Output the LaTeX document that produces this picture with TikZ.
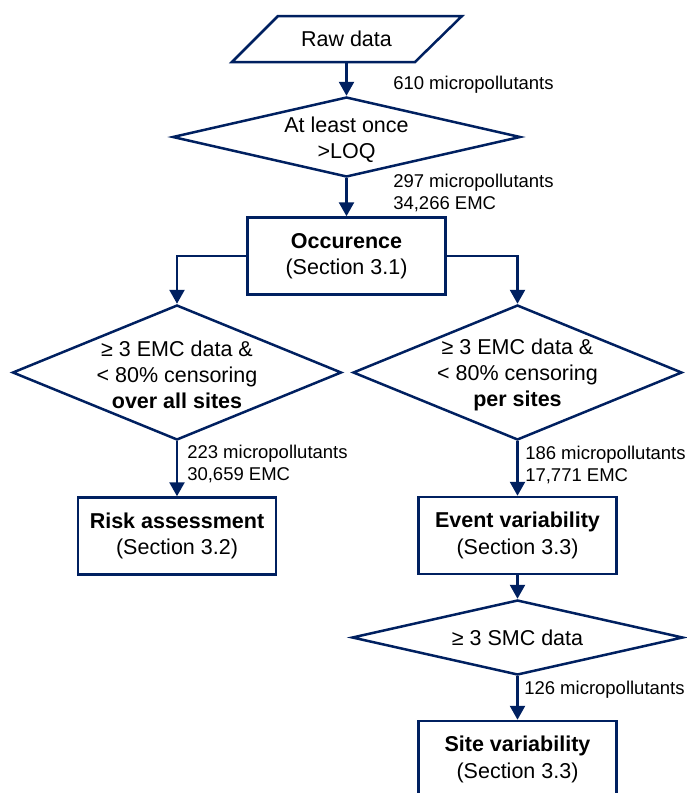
\documentclass[tikz,border=0pt]{standalone}
\usepackage{fontspec}
\setmainfont{Liberation Sans}
\usetikzlibrary{shapes.geometric,arrows.meta}
\definecolor{navy}{RGB}{0,32,96}
\begin{document}
\begin{tikzpicture}[x=1pt,y=-1pt,
  line width=2.5pt,
  every node/.style={inner sep=0pt},
  box/.style={draw=navy, rectangle, minimum width=198pt, minimum height=77pt, align=center, font=\fontsize{21.5}{26.5}\selectfont},
  dia/.style={draw=navy, diamond},
  txt/.style={align=center, font=\fontsize{21.5}{26}\selectfont},
  lbl/.style={anchor=west, align=left, font=\fontsize{18.5}{22}\selectfont},
  arr/.style={draw=navy, -{Triangle[width=15pt,length=14pt]}},
]
\useasboundingbox (0,0) rectangle (687,793);
% nodes
\node[txt, outer sep=0pt, minimum width=183pt, minimum height=46pt] (raw) at (346.5,39) {Raw data};
\draw[navy, line join=miter] ([xshift=-23pt]raw.south west) -- ([xshift=23pt]raw.north west) -- ([xshift=24pt]raw.north east) -- ([xshift=-23pt]raw.south east) -- cycle;

\node[dia, minimum width=348pt, minimum height=80pt] (d1) at (346.5,137) {};
\node[txt] (d1t) at (346.5,140) {At least once\\>LOQ};

\node[box] (occ) at (346.5,256) {\textbf{Occurence}\\(Section 3.1)};

\node[dia, minimum width=329pt, minimum height=135pt] (dl) at (177,372.5) {};
\node[txt] (dlt) at (177,375) {≥ 3 EMC data \&\\< 80\% censoring\\\textbf{over all sites}};

\node[dia, minimum width=329pt, minimum height=135pt] (dr) at (517.5,372.5) {};
\node[txt] (drt) at (517.5,375) {≥ 3 EMC data \&\\< 80\% censoring\\\textbf{per sites}};

\node[box] (risk) at (177,536) {\textbf{Risk assessment}\\(Section 3.2)};
\node[box] (event) at (517.5,535.5) {\textbf{Event variability}\\(Section 3.3)};

\node[dia, minimum width=331pt, minimum height=75pt] (ds) at (517.5,637.5) {};
\node[txt] (dst) at (517.5,638) {≥ 3 SMC data};

\node[box] (site) at (517.5,759.5) {\textbf{Site variability}\\(Section 3.3)};

% connectors
\draw[arr] (raw.south) -- (d1.north);
\draw[arr] (d1.south) -- (occ.north);
\draw[arr] (occ.west) -| (dl.north);
\draw[arr] (occ.east) -| (dr.north);
\draw[arr] (dl.south) -- (risk.north);
\draw[arr] (dr.south) -- (event.north);
\draw[arr] (event.south) -- (ds.north);
\draw[arr] (ds.south) -- (site.north);

% labels
\node[lbl] (l1) at (392,85) {610 micropollutants};
\node[lbl] (l2) at (392,193) {297 micropollutants\\34,266 EMC};
\node[lbl] (l3) at (186,464) {223 micropollutants\\30,659 EMC};
\node[lbl] (l4) at (524,465) {186 micropollutants\\17,771 EMC};
\node[lbl] (l5) at (523,690) {126 micropollutants};
\end{tikzpicture}
\end{document}
